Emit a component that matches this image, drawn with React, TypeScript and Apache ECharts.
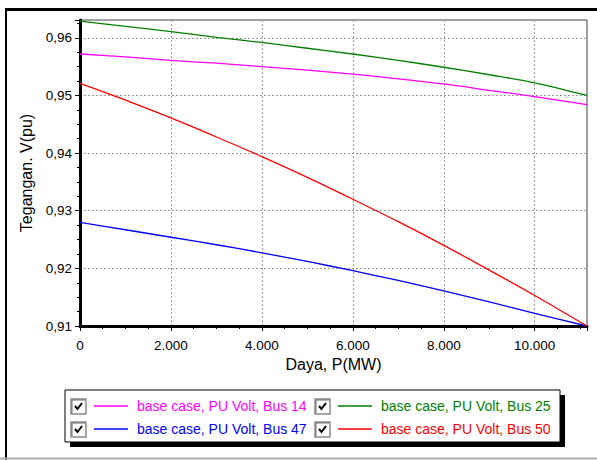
import React, { useEffect, useRef } from "react";
import * as echarts from "echarts";

// Active power (MW) sample points
const powerMW = [0, 1000, 2000, 3000, 4000, 5000, 6000, 7000, 8000, 9000, 10000, 11150];
// Bus voltages (pu)
const bus14 = [0.9572, 0.9567, 0.9561, 0.9556, 0.955, 0.9544, 0.9537, 0.9529, 0.952, 0.9509, 0.9498, 0.9484];
const bus25 = [0.9629, 0.962, 0.9611, 0.9601, 0.9592, 0.9582, 0.9572, 0.9561, 0.9549, 0.9536, 0.9522, 0.95];
const bus47 = [0.928, 0.9267, 0.9254, 0.9241, 0.9227, 0.9212, 0.9196, 0.9179, 0.9161, 0.9142, 0.9122, 0.91];
const bus50 = [0.9521, 0.9492, 0.9461, 0.9428, 0.9394, 0.9358, 0.932, 0.9281, 0.924, 0.9197, 0.9153, 0.91];

const seriesNames = [
  "base case, PU Volt, Bus 14",
  "base case, PU Volt, Bus 25",
  "base case, PU Volt, Bus 47",
  "base case, PU Volt, Bus 50",
];
const seriesColors = ["#ff00ff", "#008000", "#0000ff", "#ff0000"];
const seriesValues = [bus14, bus25, bus47, bus50];

const xTickValues = [0, 2000, 4000, 6000, 8000, 10000];
const xTickLabels = ["0", "2.000", "4.000", "6.000", "8.000", "10.000"];
const yTickValues = [0.91, 0.92, 0.93, 0.94, 0.95, 0.96];
const yTickLabels = ["0,91", "0,92", "0,93", "0,94", "0,95", "0,96"];

const FONT = "'Liberation Sans', Arial, sans-serif";

function lookup(values: number[], labels: string[], v: number): string {
  for (let i = 0; i < values.length; i++) {
    if (Math.abs(values[i] - v) < 1e-6 * Math.max(1, Math.abs(v))) return labels[i];
  }
  return "";
}

function legendGraphics(): any[] {
  const els: any[] = [];
  const boxX = 65, boxY = 390, boxW = 495, boxH = 52;
  els.push({ type: "rect", z: 1, shape: { x: boxX + 5, y: boxY + 5, width: boxW, height: boxH }, style: { fill: "#000" } });
  els.push({ type: "rect", z: 2, shape: { x: boxX, y: boxY, width: boxW, height: boxH }, style: { fill: "#fff", stroke: "#000", lineWidth: 1 } });
  const cols = [71, 315];
  const rows = [406, 429];
  const order = [0, 1, 2, 3];
  order.forEach((idx, k) => {
    const cx = cols[k % 2];
    const cy = rows[Math.floor(k / 2)];
    // checkbox
    els.push({ type: "rect", z: 3, shape: { x: cx, y: cy - 7, width: 15, height: 15 }, style: { fill: "#fff", stroke: "#8a8a8a", lineWidth: 1.5 } });
    els.push({ type: "line", z: 3, shape: { x1: cx + 1, y1: cy - 6, x2: cx + 14, y2: cy - 6 }, style: { stroke: "#6a6a6a", lineWidth: 1 } });
    els.push({ type: "line", z: 3, shape: { x1: cx + 1, y1: cy - 6, x2: cx + 1, y2: cy + 7 }, style: { stroke: "#6a6a6a", lineWidth: 1 } });
    els.push({
      type: "polyline", z: 4,
      shape: { points: [[cx + 4, cy], [cx + 6.5, cy + 3], [cx + 11, cy - 3]] },
      style: { stroke: "#000", lineWidth: 2, fill: null },
    });
    // line sample
    els.push({ type: "line", z: 3, shape: { x1: cx + 23, y1: cy, x2: cx + 57, y2: cy }, style: { stroke: seriesColors[idx], lineWidth: 1.3 } });
    // text
    els.push({
      type: "text", z: 3, x: cx + 66, y: cy,
      style: { text: seriesNames[idx], fill: seriesColors[idx], font: `14px ${FONT}`, verticalAlign: "middle", align: "left" },
    });
  });
  return els;
}

export default function App() {
  const ref = useRef<HTMLDivElement>(null);
  useEffect(() => {
    document.body.style.margin = "0";
    if (!ref.current) return;
    const chart = echarts.init(ref.current, null, { renderer: "svg" });
    const frame: any[] = [
      { type: "line", z: 5, shape: { x1: 6, y1: 8, x2: 6, y2: 460 }, style: { stroke: "#000", lineWidth: 2 } },
      { type: "line", z: 5, shape: { x1: 5, y1: 9.5, x2: 597, y2: 9.5 }, style: { stroke: "#000", lineWidth: 3 } },
      { type: "line", z: 5, shape: { x1: 0, y1: 458.5, x2: 597, y2: 458.5 }, style: { stroke: "#b0b0b0", lineWidth: 2 } },
    ];
    const option: any = {
      animation: false,
      backgroundColor: "#fff",
      textStyle: { fontFamily: FONT },
      grid: { left: 80, right: 10, top: 20, bottom: 134, show: true, borderColor: "#444", borderWidth: 1, backgroundColor: "transparent" },
      xAxis: {
        type: "value",
        min: 0,
        max: 11150,
        interval: 2000,
        name: "Daya, P(MW)",
        nameLocation: "middle",
        nameGap: 20,
        nameTextStyle: { fontSize: 16, color: "#000", fontFamily: FONT },
        axisLine: { show: true, lineStyle: { color: "#000", width: 3 } },
        axisTick: { show: true, length: 5, lineStyle: { color: "#000", width: 1 } },
        minorTick: { show: true, splitNumber: 4, length: 3, lineStyle: { color: "#000", width: 1 } },
        axisLabel: {
          fontSize: 13.5, color: "#000", margin: 12, fontFamily: FONT, showMaxLabel: false,
          formatter: (v: number) => lookup(xTickValues, xTickLabels, v),
        },
        splitLine: { show: true, lineStyle: { color: "#999", width: 1, type: [2, 2] } },
      },
      yAxis: {
        type: "value",
        min: 0.91,
        max: 0.9631,
        interval: 0.01,
        name: "Tegangan. V(pu)",
        nameLocation: "middle",
        nameGap: 38,
        nameRotate: 90,
        nameTextStyle: { fontSize: 16, color: "#000", fontFamily: FONT },
        axisLine: { show: true, lineStyle: { color: "#000", width: 3 } },
        axisTick: { show: true, length: 5, lineStyle: { color: "#000", width: 1 } },
        minorTick: { show: true, splitNumber: 4, length: 3, lineStyle: { color: "#000", width: 1 } },
        axisLabel: {
          fontSize: 13.5, color: "#000", margin: 8, fontFamily: FONT, showMaxLabel: false,
          formatter: (v: number) => lookup(yTickValues, yTickLabels, v),
        },
        splitLine: { show: true, lineStyle: { color: "#999", width: 1, type: [2, 2] } },
      },
      series: seriesValues.map((vals, i) => ({
        name: seriesNames[i],
        type: "line",
        smooth: 0.3,
        showSymbol: false,
        symbol: "none",
        lineStyle: { color: seriesColors[i], width: 1.3 },
        itemStyle: { color: seriesColors[i] },
        data: powerMW.map((p, j) => [p, vals[j]]),
        z: 3,
      })),
      graphic: [...frame, ...legendGraphics()],
    };
    chart.setOption(option);
    return () => chart.dispose();
  }, []);
  return <div ref={ref} style={{ width: 597, height: 460 }} />;
}
